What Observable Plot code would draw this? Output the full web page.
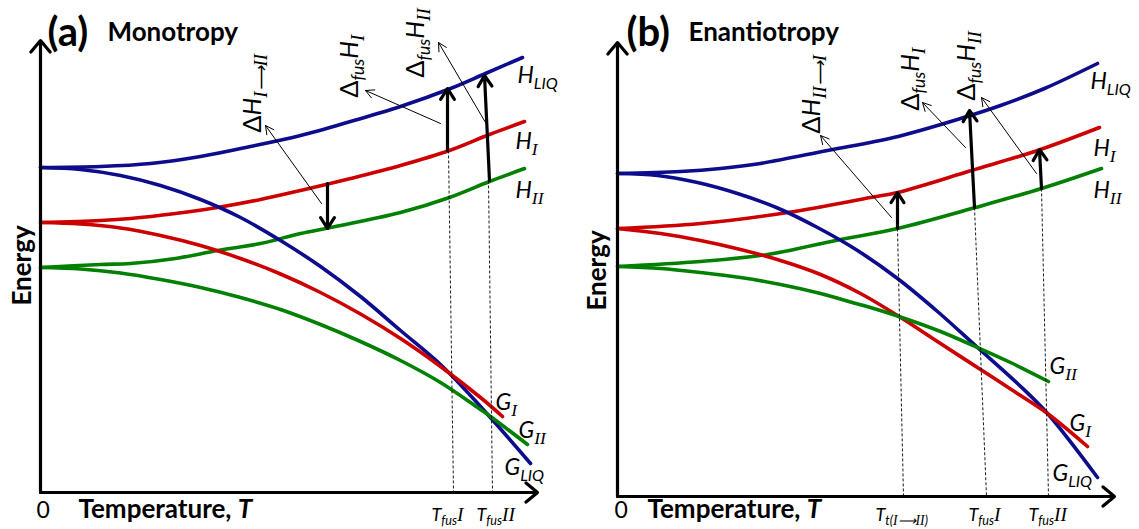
<!DOCTYPE html>
<html><head><meta charset="utf-8">
<script src="https://cdn.jsdelivr.net/npm/d3@7"></script>
<script src="https://cdn.jsdelivr.net/npm/@observablehq/plot@0.6"></script>
<style>
body{margin:0;background:#fff;}
#wrap{display:flex;width:1139px;height:529px;overflow:hidden;}
svg{font-family:Lato,"Open Sans",sans-serif;overflow:visible;}
</style></head><body><div id="wrap"></div>
<script>
const BLUE="#0c0c8c", RED="#cc0000", GREEN="#008000";

// ---------- Panel (a) Monotropy : curves as [T, E] ----------
const aHLIQ=[[0,65],[12,65.2],[22,65.8],[32,67.2],[42,69.2],[52,71.4],[62,74.2],[72,77.2],[82,80.8],[89,83.8],[96.4,87]];
const aHI  =[[0,54],[12,54.4],[18,54.8],[27,55.8],[35.4,57],[44,58.6],[52,60.4],[62,62.8],[72,65.4],[81.8,68.4],[89.8,71.6],[96.8,74.2]];
const aHII =[[0,45],[12,45.6],[18,45.8],[27,46.8],[35.4,48.4],[44,49.8],[52,51.8],[58,53],[72,56],[81.8,59],[89.8,62.2],[96.8,64.8]];
const aGLIQ=[[0,65],[8,64.6],[16,63.4],[24,61.4],[32,58.6],[40,55],[48,50.4],[56,45.2],[64,39.2],[72,32.4],[80,25.6],[88,17.2],[98,5.8]];
const aGI  =[[0,54],[8,53.7],[16,52.9],[24,51.4],[32,49.4],[40,46.8],[48,43.7],[56,40],[64,35.7],[72,30.8],[80,25.2],[88,19],[92.4,15.2]];
const aGII =[[0,45],[8,44.7],[16,43.9],[24,42.6],[32,41],[40,39],[48,36.6],[56,33.6],[64,30.2],[72,26.4],[80,22],[88,16.6],[90,15.2],[97.4,9.6]];
const aDashed=[[81.6,68.4,82.6,0],[89.6,62.4,90.4,0]];
const aThick =[[57.4,61.8,57.4,52.8],[81.4,68.4,81.4,80.8],[89.8,62.4,88.8,83.4]];
const aThin  =[[56.2,57.8,45,73.4],[80,73.8,65,80.4],[89,74,79.6,90]];
const aAxes  =[[0,0,0,90.4],[0,0,99.4,0]];
const aCurveLabels=[[95.4,82,"H_{LIQ}"],[95,68.8,"H_{I}"],[95,59,"H_{II}"],[91,16.6,"G_{I}"],[95.6,11,"G_{II}"],[92.8,3.6,"G_{LIQ}"]];
const aRotLabels=[[42.4,72,"ΔH_{I⟶II}"],[61.8,79,"Δ_{fus}H_{I}"],[75,83,"Δ_{fus}H_{II}"]];
const aTickLabels=[[78.2,-5.6,"T_{fus}I"],[87.2,-5.6,"T_{fus}II"]];
const aTitle=["(a)","Monotropy"];

// ---------- Panel (b) Enantiotropy ----------
const bHLIQ=[[0,64.6],[12.6,65],[20.6,65.6],[28.6,66.6],[42,69.2],[55.2,71.8],[68.6,75.6],[76.6,78.2],[85.4,81.6],[96,86.6]];
const bHI  =[[0,53.6],[16.6,54.6],[34,56.8],[50.6,59.8],[56,60.8],[70.8,65.2],[84,69.2],[96.4,73.8]];
const bHII =[[0,46],[16.6,47],[30,48.4],[44.6,51.4],[56,53.6],[71.6,57.8],[84.8,61.6],[96.8,65.6]];
const bGLIQ=[[0,64.6],[8,64.2],[16,62.8],[24,60.6],[32,57.7],[40,53.8],[48,49.2],[56,43.6],[64,37],[72,29.8],[80,22.6],[86,16.6],[96,3.8]];
const bGI  =[[0,53.6],[8.6,52.6],[16.6,51.2],[24.6,49.4],[32.6,47.2],[40.6,44.4],[48.6,40.6],[56,36.2],[64.6,30.6],[72.6,25.4],[80.6,20.2],[86,16.6],[94,10]];
const bGII =[[0,46],[8.6,45.6],[16.6,44.8],[24.6,43.8],[32.6,42.4],[40.6,40.6],[46.6,38.9],[50.6,37.8],[56,36.1],[64.6,33],[72,29.8],[78.6,26.8],[86.2,23]];
const bDashed=[[56,53.6,57.2,0],[71.4,57.8,73.8,0],[84.8,61.6,86.2,0]];
const bThick =[[56,53.6,56,60.8],[71.4,57.8,70.4,77.2],[84.8,61.6,84.4,69.4]];
const bThin  =[[54.8,55.8,40.6,72.2],[69.6,69.8,61,78.8],[83.8,64.6,72.8,79.8]];
const bAxes  =[[0,0,0,90.8],[0,0,99.4,0]];
const bCurveLabels=[[94.6,81.6,"H_{LIQ}"],[95.2,68.2,"H_{I}"],[95.2,59.8,"H_{II}"],[86.4,24.6,"G_{II}"],[90.4,13.2,"G_{I}"],[87,3.2,"G_{LIQ}"]];
const bRotLabels=[[38.8,72.6,"ΔH_{II⟶I}"],[58.6,77.2,"Δ_{fus}H_{I}"],[69.8,79.2,"Δ_{fus}H_{II}"]];
const bTickLabels=[[51.6,-4.8,"T_{t(I⟶II)}"],[70.2,-4.8,"T_{fus}I"],[82.2,-4.8,"T_{fus}II"]];
const bTitle=["(b)","Enantiotropy"];

const FONT="Lato, 'Open Sans', sans-serif";
const SERIF="'Liberation Serif', 'DejaVu Serif', serif";

function panel(p){
  const curves=[[p.HLIQ,BLUE,"HLIQ"],[p.HI,RED,"HI"],[p.HII,GREEN,"HII"],[p.GLIQ,BLUE,"GLIQ"],[p.GI,RED,"GI"],[p.GII,GREEN,"GII"]];
  const lineData=curves.flatMap(([pts,col,nm])=>pts.map(([T,E])=>({T,E,nm,col})));
  const seg={x1:d=>d[0],y1:d=>d[1],x2:d=>d[2],y2:d=>d[3]};
  const fixed=[
    {T:p.tpos[0][0],E:p.tpos[0][1],s:p.title[0],size:40},
    {T:p.tpos[1][0],E:p.tpos[1][1],s:p.title[1],size:26}
  ];
  const marks=[
    Plot.line(lineData,{x:"T",y:"E",z:"nm",stroke:"col",strokeWidth:3.6,curve:"catmull-rom"}),
    Plot.link(p.dashed,{...seg,stroke:"#000",strokeWidth:0.9,strokeDasharray:"3,2"}),
    Plot.arrow(p.thin,{...seg,stroke:"#000",strokeWidth:1,headLength:14,headAngle:55}),
    Plot.arrow(p.thick,{...seg,stroke:"#000",strokeWidth:3.2,headLength:6,headAngle:65}),
    Plot.arrow(p.axes,{...seg,stroke:"#000",strokeWidth:3.2,headLength:7,headAngle:80}),
    Plot.text(fixed,{x:"T",y:"E",text:"s",fontSize:"size",textAnchor:"start",lineAnchor:"bottom",fontWeight:"bold",fontFamily:FONT,fill:"#000"}),
    Plot.text([p.zero],{x:d=>d[0],y:d=>d[1],text:()=>"0",fontSize:23,textAnchor:"start",lineAnchor:"bottom",fontFamily:FONT,fill:"#000"}),
    Plot.text([p.tempLabel],{x:d=>d[0],y:d=>d[1],text:()=>"Temperature, *T*",fontSize:26,textAnchor:"start",lineAnchor:"bottom",fontWeight:"bold",fontFamily:FONT,fill:"#000"}),
    Plot.text([p.energy],{x:d=>d[0],y:d=>d[1],text:()=>"Energy",fontSize:26,rotate:-90,textAnchor:"middle",lineAnchor:"middle",fontWeight:"bold",fontFamily:FONT,fill:"#000"}),
    Plot.text(p.curveLabels,{x:d=>d[0],y:d=>d[1],text:d=>d[2],fontSize:23,fontStyle:"italic",textAnchor:"start",lineAnchor:"bottom",fontFamily:FONT,fill:"#000"}),
    Plot.text(p.rotLabels,{x:d=>d[0],y:d=>d[1],text:d=>d[2],fontSize:25,fontStyle:"italic",rotate:-90,textAnchor:"start",lineAnchor:"middle",fontFamily:FONT,fill:"#000"}),
    Plot.text(p.tickLabels,{x:d=>d[0],y:d=>d[1],text:d=>d[2],fontSize:18,fontStyle:"italic",textAnchor:"start",lineAnchor:"bottom",fontFamily:FONT,fill:"#000"})
  ];
  return Plot.plot({
    width:p.w,height:529,margin:0,
    x:{domain:[0,100],range:[p.x0,p.x0+500],axis:null},
    y:{domain:[0,100],range:[p.y0,p.y0-500],axis:null},
    color:{type:"identity"},
    style:{background:"#fff",overflow:"visible"},
    marks
  });
}

// turn "H_{LIQ}", "*T*", Δ and roman numerals into styled tspans
function richify(svg){
  const NS="http://www.w3.org/2000/svg";
  svg.querySelectorAll("text").forEach(t=>{
    const s=t.textContent;
    if(!/_\{|\*|Δ|I/.test(s)) return;
    if(!/_\{|\*|Δ/.test(s) && !/(^|[^A-Za-z])I+([^A-Za-z]|$)/.test(s)) return;
    const F=parseFloat(getComputedStyle(t).fontSize)||21;
    const pieces=[];
    for(const part of s.split(/(_\{[^}]*\}|\*[^*]*\*)/).filter(x=>x!=="")){
      let sub=false, ital=null, txt=part;
      if(part.startsWith("_{")){sub=true;txt=part.slice(2,-1);}
      else if(part.startsWith("*")){ital="italic";txt=part.slice(1,-1);}
      for(const r of txt.split(/((?<![A-Za-z])I+(?![A-Za-z])|Δ)/).filter(x=>x!=="")){
        pieces.push({txt:r,sub,ital,serif:/^I+$/.test(r),upright:r==="Δ"});
      }
    }
    while(t.firstChild) t.removeChild(t.firstChild);
    let shifted=false;
    const sh=F*0.26;
    for(const pc of pieces){
      const ts=document.createElementNS(NS,"tspan");
      ts.textContent=pc.txt;
      let size=pc.sub?F*0.7:F;
      if(pc.serif){ts.setAttribute("font-family",SERIF);size*=1.08;ts.setAttribute("font-style","italic");}
      ts.setAttribute("font-size",size.toFixed(1));
      if(pc.ital) ts.setAttribute("font-style",pc.ital);
      if(pc.upright) ts.setAttribute("font-style","normal");
      if(pc.sub && !shifted){ts.setAttribute("dy",sh.toFixed(1));shifted=true;}
      if(!pc.sub && shifted){ts.setAttribute("dy",(-sh).toFixed(1));shifted=false;}
      t.appendChild(ts);
    }
  });
}

const wrap=document.getElementById("wrap");
const pa=panel({w:570,x0:40,y0:492,HLIQ:aHLIQ,HI:aHI,HII:aHII,GLIQ:aGLIQ,GI:aGI,GII:aGII,
  dashed:aDashed,thick:aThick,thin:aThin,axes:aAxes,curveLabels:aCurveLabels,rotLabels:aRotLabels,tickLabels:aTickLabels,
  title:aTitle,tpos:[[1.4,89.4],[13.4,90.4]],zero:[-0.8,-5],tempLabel:[7.6,-5],energy:[-3.6,45.4]});
const pb=panel({w:569,x0:47,y0:496,HLIQ:bHLIQ,HI:bHI,HII:bHII,GLIQ:bGLIQ,GI:bGI,GII:bGII,
  dashed:bDashed,thick:bThick,thin:bThin,axes:bAxes,curveLabels:bCurveLabels,rotLabels:bRotLabels,tickLabels:bTickLabels,
  title:bTitle,tpos:[[1.8,90.2],[14.2,91.2]],zero:[-0.6,-4.2],tempLabel:[6,-4.2],energy:[-4,45.2]});
wrap.appendChild(pa);wrap.appendChild(pb);
richify(pa);richify(pb);
</script></body></html>
